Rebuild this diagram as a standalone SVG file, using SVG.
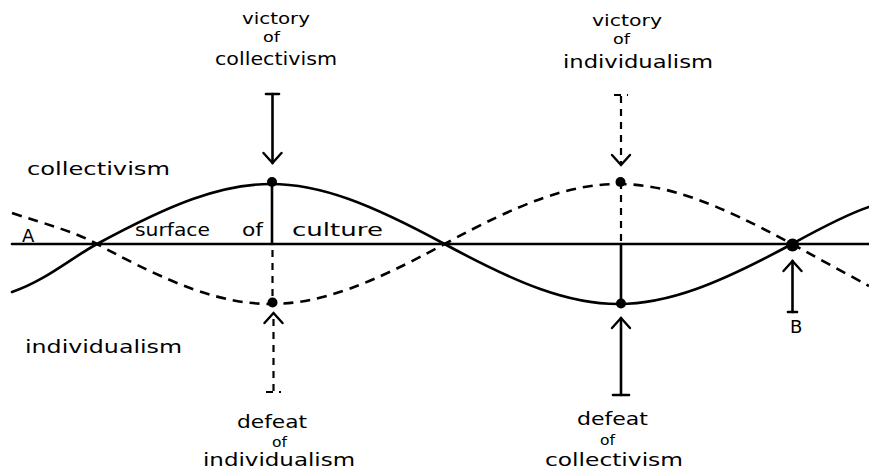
<svg xmlns="http://www.w3.org/2000/svg" width="869" height="471" viewBox="0 0 869 471">
<style>
  text { font-family: "DejaVu Sans", "Liberation Sans", sans-serif; font-size: 18px; fill: #000; }
  .st { font-size: 16px; }
  .of { font-size: 14px; }
  .s { fill: none; stroke: #000; stroke-width: 2.6; stroke-linecap: round; }
  .d { fill: none; stroke: #000; stroke-width: 2.6; stroke-dasharray: 10 7; }
  .dv { fill: none; stroke: #000; stroke-width: 2.2; stroke-dasharray: 7 6; }
  .dot { fill: #000; }
</style>
<defs>
  <marker id="open" viewBox="0 0 14 22" refX="12" refY="11" markerWidth="14" markerHeight="22" markerUnits="userSpaceOnUse" orient="auto">
    <path d="M2,2 L12,11 L2,20" fill="none" stroke="#000" stroke-width="2.4" stroke-linecap="round"/>
  </marker>
</defs>
<rect width="869" height="471" fill="#fff"/>

<g id="surface">
  <line class="s" x1="12" y1="244" x2="869" y2="244"/>
  <path id="collectivism-curve" class="s" d="M12,292 C45,281 72,257.5 97,244 C244.5,164 297,164 444.5,244 C592,324 644.5,324 792,244 C812,233 845,215 869,207"/>
  <path id="individualism-curve" class="d" d="M12,213 C45,224 72,230.5 97,244 C244.5,324 297,324 444.5,244 C592,164 644.5,164 792,244 C812,255 845,273 869,286"/>
  <line class="s" x1="272" y1="182" x2="272" y2="244"/>
  <line class="dv" x1="272.5" y1="250" x2="272.5" y2="302"/>
  <line class="dv" x1="621" y1="182" x2="621" y2="244"/>
  <line class="s" x1="621" y1="244" x2="621" y2="303"/>
</g>

<g id="points">
  <circle class="dot" cx="272" cy="182" r="5"/>
  <circle class="dot" cx="272.5" cy="302.5" r="5"/>
  <circle class="dot" cx="620.5" cy="182" r="5"/>
  <circle class="dot" cx="621" cy="303.5" r="5"/>
  <circle class="dot" cx="792.5" cy="245" r="6.5"/>
</g>

<g id="connectors">
  <line class="s" x1="272.5" y1="94" x2="272.5" y2="163" marker-end="url(#open)"/>
  <line class="s" x1="266" y1="94" x2="279" y2="94"/>
  <line class="dv" x1="621" y1="96" x2="621" y2="165" marker-end="url(#open)"/>
  <line class="dv" x1="614" y1="95" x2="628" y2="95" stroke-dasharray="3 3"/>
  <line class="dv" x1="273.5" y1="391" x2="273.5" y2="313" marker-end="url(#open)"/>
  <line class="dv" x1="266" y1="392" x2="281" y2="392" stroke-dasharray="3 3"/>
  <line class="s" x1="621" y1="395" x2="621" y2="318" marker-end="url(#open)"/>
  <line class="s" x1="613" y1="395" x2="629" y2="395"/>
  <line class="s" x1="792.5" y1="312" x2="792.5" y2="261" marker-end="url(#open)"/>
  <line class="s" x1="788" y1="312" x2="797" y2="312"/>
</g>

<g id="label-victory-collectivism">
  <text class="st" x="242" y="24" textLength="68" lengthAdjust="spacingAndGlyphs">victory</text>
  <text class="of" x="263" y="42" textLength="17" lengthAdjust="spacingAndGlyphs">of</text>
  <text x="215" y="65" textLength="122" lengthAdjust="spacingAndGlyphs">collectivism</text>
</g>
<g id="label-victory-individualism">
  <text class="st" x="592" y="26" textLength="70" lengthAdjust="spacingAndGlyphs">victory</text>
  <text class="of" x="613" y="44" textLength="17" lengthAdjust="spacingAndGlyphs">of</text>
  <text x="563" y="68" textLength="150" lengthAdjust="spacingAndGlyphs">individualism</text>
</g>
<g id="label-collectivism">
  <text x="27" y="175" textLength="143" lengthAdjust="spacingAndGlyphs">collectivism</text>
</g>
<g id="label-individualism">
  <text x="25" y="353" textLength="157" lengthAdjust="spacingAndGlyphs">individualism</text>
</g>
<g id="label-A">
  <text x="22" y="242" font-size="16">A</text>
</g>
<g id="label-surface">
  <text x="135" y="236" textLength="75" lengthAdjust="spacingAndGlyphs">surface</text>
  <text x="242" y="236" textLength="21" lengthAdjust="spacingAndGlyphs">of</text>
  <text x="292" y="236" textLength="91" lengthAdjust="spacingAndGlyphs">culture</text>
</g>
<g id="label-defeat-individualism">
  <text x="237" y="428" textLength="70" lengthAdjust="spacingAndGlyphs">defeat</text>
  <text class="of" x="272" y="447" textLength="15" lengthAdjust="spacingAndGlyphs">of</text>
  <text x="203" y="466" textLength="152" lengthAdjust="spacingAndGlyphs">individualism</text>
</g>
<g id="label-defeat-collectivism">
  <text x="577" y="425" textLength="71" lengthAdjust="spacingAndGlyphs">defeat</text>
  <text class="of" x="600" y="445" textLength="15" lengthAdjust="spacingAndGlyphs">of</text>
  <text x="545" y="466" textLength="138" lengthAdjust="spacingAndGlyphs">collectivism</text>
</g>
<g id="label-B">
  <text x="790" y="333" font-size="16">B</text>
</g>
</svg>
